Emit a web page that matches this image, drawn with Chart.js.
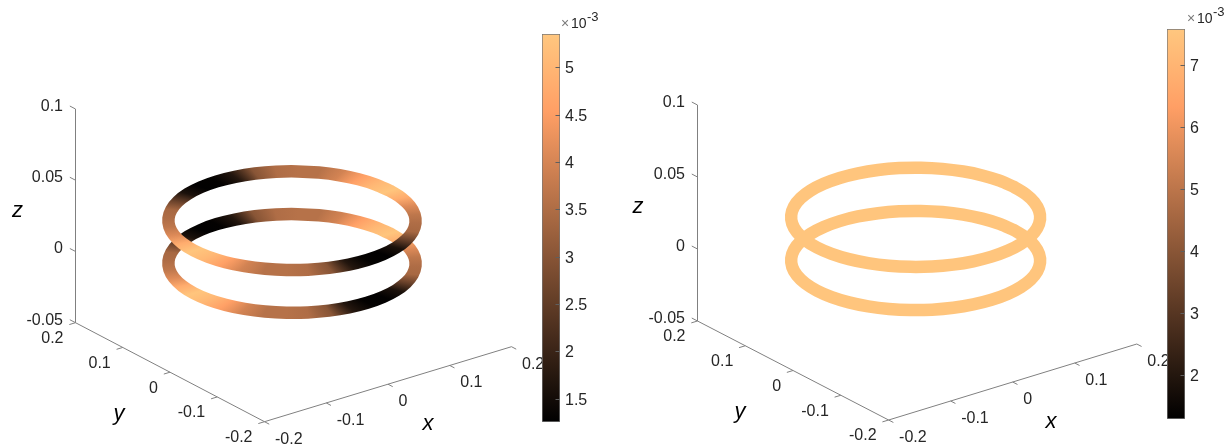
<!DOCTYPE html>
<html>
<head>
<meta charset="utf-8">
<title>Rings</title>
<script src="https://cdn.jsdelivr.net/npm/chart.js@4"></script>
<style>
  html, body { margin: 0; padding: 0; background: #fff; overflow: hidden; }
  #page { position: relative; width: 1227px; height: 444px; }
  canvas { position: absolute; }
</style>
</head>
<body>
<div id="page"></div>
<script>
// ==== DATA ====
const xTicks = [-0.2, -0.1, 0, 0.1, 0.2];
const yTicks = [-0.2, -0.1, 0, 0.1, 0.2];
const zTicks = [-0.05, 0, 0.05, 0.1];
const xTickLabels = ["-0.2", "-0.1", "0", "0.1", "0.2"];
const yTickLabels = ["-0.2", "-0.1", "0", "0.1", "0.2"];
const zTickLabels = ["-0.05", "0", "0.05", "0.1"];

// ring outline, every 10 degrees, closed
const ringX = [0.159, 0.15658, 0.14941, 0.1377, 0.1218, 0.1022, 0.0795, 0.05438, 0.02761, 0, -0.02761, -0.05438, -0.0795, -0.1022, -0.1218, -0.1377, -0.14941, -0.15658, -0.159, -0.15658, -0.14941, -0.1377, -0.1218, -0.1022, -0.0795, -0.05438, -0.02761, 0, 0.02761, 0.05438, 0.0795, 0.1022, 0.1218, 0.1377, 0.14941, 0.15658, 0.159];
const ringY = [0, 0.02761, 0.05438, 0.0795, 0.1022, 0.1218, 0.1377, 0.14941, 0.15658, 0.159, 0.15658, 0.14941, 0.1377, 0.1218, 0.1022, 0.0795, 0.05438, 0.02761, 0, -0.02761, -0.05438, -0.0795, -0.1022, -0.1218, -0.1377, -0.14941, -0.15658, -0.159, -0.15658, -0.14941, -0.1377, -0.1218, -0.1022, -0.0795, -0.05438, -0.02761, 0];
const ringHeights = [0, 0.03];
const ringCentre = [-0.0015, 0.0012];

// colour values along the rings (x 10^-3)
const leftValues = [5.3, 5.05, 4.55, 3.95, 3.6, 3.6, 3.5, 3.0, 1.7, 1.3, 1.28, 1.6, 2.6, 3.4, 3.5, 3.7, 4.1, 4.8, 5.3, 5.05, 4.55, 3.95, 3.6, 3.6, 3.5, 3.0, 1.7, 1.3, 1.28, 1.6, 2.6, 3.4, 3.5, 3.7, 4.1, 4.8, 5.3];
const rightValues = [7.5, 7.5, 7.5, 7.5, 7.5, 7.5, 7.5, 7.5, 7.5, 7.5, 7.5, 7.5, 7.5, 7.5, 7.5, 7.5, 7.5, 7.5, 7.5, 7.5, 7.5, 7.5, 7.5, 7.5, 7.5, 7.5, 7.5, 7.5, 7.5, 7.5, 7.5, 7.5, 7.5, 7.5, 7.5, 7.5, 7.5];

const leftBarTicks = [1.5, 2, 2.5, 3, 3.5, 4, 4.5, 5];
const rightBarTicks = [2, 3, 4, 5, 6, 7];
const leftBarRange = [1.254, 5.353];
const rightBarRange = [1.285, 7.575];

// ==== SETTINGS ====
const PAGE_W = 1227, PAGE_H = 444;
const FONT = '"Liberation Sans", Arial, sans-serif';
const TEXT_COLOR = "#262626";
const AXIS_COLOR = "#808080";

const page = document.getElementById("page");

function addCanvas(left, top, w, h) {
  const c = document.createElement("canvas");
  c.width = w;
  c.height = h;
  c.style.left = left + "px";
  c.style.top = top + "px";
  c.style.width = w + "px";
  c.style.height = h + "px";
  page.appendChild(c);
  return c;
}

// matlab copper
function copper(t) {
  t = Math.max(0, Math.min(1, t));
  const r = Math.min(1, 1.25 * t), g = 0.7812 * t, b = 0.4975 * t;
  return `rgb(${Math.round(r * 255)},${Math.round(g * 255)},${Math.round(b * 255)})`;
}

// 3D view of one panel -> page position
function makeProjection(p) {
  return (x, y, z) => ({
    x: p.origin[0] + (x + 0.2) * p.xVec[0] + (y + 0.2) * p.yVec[0],
    y: p.origin[1] + (x + 0.2) * p.xVec[1] + (y + 0.2) * p.yVec[1] + (z + 0.05) * p.zVec
  });
}

function ringPoint(project, i, z) {
  return project(ringX[i] + ringCentre[0], ringY[i] + ringCentre[1], z);
}

function ringGradient(chart, project, z, values, range) {
  if (!chart.chartArea) return "#000";
  const sx = chart.scales.x, sy = chart.scales.y;
  const c = project(ringCentre[0], ringCentre[1], z);
  const cx = sx.getPixelForValue(c.x), cy = sy.getPixelForValue(c.y);
  const angleAt = (i) => {
    const q = ringPoint(project, i, z);
    return Math.atan2(sy.getPixelForValue(q.y) - cy, sx.getPixelForValue(q.x) - cx);
  };
  const start = angleAt(0);
  const grad = chart.ctx.createConicGradient(start, cx, cy);
  const n = ringX.length - 1;
  for (let k = 0; k <= n; k++) {
    const i = n - k; // screen clockwise = falling angle on the ring
    let off = ((angleAt(i) - start) % (2 * Math.PI) + 2 * Math.PI) % (2 * Math.PI) / (2 * Math.PI);
    if (k === 0) off = 0;
    if (k === n) off = 1;
    grad.addColorStop(off, copper((values[i] - range[0]) / (range[1] - range[0])));
  }
  return grad;
}

function drawPanel(p) {
  const project = makeProjection(p);
  const line = (pts) => ({
    type: "line", data: pts, borderColor: AXIS_COLOR, borderWidth: 1, pointRadius: 0, tension: 0, order: 3
  });

  const datasets = [];
  // axes
  datasets.push(line([project(-0.2, -0.2, -0.05), project(0.2, -0.2, -0.05)]));
  datasets.push(line([project(-0.2, -0.2, -0.05), project(-0.2, 0.2, -0.05)]));
  datasets.push(line([project(-0.2, 0.2, -0.05), project(-0.2, 0.2, 0.1)]));
  // tick marks
  xTicks.forEach(v => datasets.push(line([project(v, -0.2, -0.05), project(v, -0.21, -0.05)])));
  yTicks.forEach(v => datasets.push(line([project(-0.2, v, -0.05), project(-0.21, v, -0.05)])));
  zTicks.forEach(v => datasets.push(line([project(-0.2, 0.2, v), project(-0.2, 0.212, v)])));

  // rings, the upper one on top
  ringHeights.forEach((z, n) => {
    datasets.push({
      type: "line",
      data: ringX.map((x, i) => ringPoint(project, i, z)),
      borderColor: (ctx) => ringGradient(ctx.chart, project, z, p.values, p.range),
      borderWidth: 12.5,
      borderCapStyle: "round",
      pointRadius: 0,
      tension: 0.33,
      order: 2 - n
    });
  });

  const axisText = {
    id: "axisText",
    afterDraw(chart) {
      const ctx = chart.ctx, sx = chart.scales.x, sy = chart.scales.y;
      const put = (text, q, dx, dy, align) => {
        ctx.textAlign = align;
        ctx.fillText(text, sx.getPixelForValue(q.x) + dx, sy.getPixelForValue(q.y) + dy);
      };
      ctx.save();
      ctx.fillStyle = TEXT_COLOR;
      ctx.textBaseline = "middle";
      ctx.font = "16px " + FONT;
      xTicks.forEach((v, i) => put(xTickLabels[i], project(v, -0.2, -0.05), 10.5, 17.5, "left"));
      yTicks.forEach((v, i) => put(yTickLabels[i], project(-0.2, v, -0.05), -12, 16, "right"));
      zTicks.forEach((v, i) => put(zTickLabels[i], project(-0.2, 0.2, v), -12.5, -2.5, "right"));

      ctx.fillStyle = "#000";
      ctx.textAlign = "center";
      ctx.font = "italic 22px " + FONT;
      p.axisLabels.forEach(a => ctx.fillText(a.text, a.x, a.y));

      // colorbar exponent
      ctx.textAlign = "left";
      ctx.textBaseline = "alphabetic";
      ctx.fillStyle = "#7a7a7a";
      ctx.font = "14px " + FONT;
      ctx.fillText("\u00d7", p.expX, p.expY);
      ctx.fillStyle = TEXT_COLOR;
      ctx.fillText("10", p.expX + 10, p.expY);
      ctx.font = "13px " + FONT;
      ctx.fillText("-3", p.expX + 26, p.expY - 7);
      ctx.restore();
    }
  };

  new Chart(addCanvas(0, 0, PAGE_W, PAGE_H), {
    type: "line",
    data: { datasets },
    options: {
      responsive: false,
      animation: false,
      events: [],
      layout: { padding: 0 },
      plugins: { legend: { display: false }, tooltip: { enabled: false } },
      scales: {
        x: { type: "linear", display: false, min: 0, max: PAGE_W },
        y: { type: "linear", display: false, min: 0, max: PAGE_H, reverse: true }
      }
    },
    plugins: [axisText]
  });
}

function drawColorbar(b) {
  const PAD = 12, W = 72;
  const innerTicks = {
    id: "innerTicks",
    afterDatasetsDraw(chart) {
      const ctx = chart.ctx, a = chart.chartArea, sy = chart.scales.y;
      ctx.save();
      ctx.strokeStyle = "#5f5f5f";
      ctx.lineWidth = 1;
      b.ticks.forEach(v => {
        const py = Math.round(sy.getPixelForValue(v)) + 0.5;
        ctx.beginPath();
        ctx.moveTo(a.right - 4.5, py);
        ctx.lineTo(a.right, py);
        ctx.stroke();
      });
      ctx.restore();
    }
  };
  new Chart(addCanvas(b.left, b.top - PAD, W, b.height + 2 * PAD), {
    type: "bar",
    data: {
      labels: ["c"],
      datasets: [{
        data: [b.range],
        backgroundColor(ctx) {
          const chart = ctx.chart;
          if (!chart.chartArea) return "#000";
          const a = chart.chartArea;
          const g = chart.ctx.createLinearGradient(0, a.bottom, 0, a.top);
          g.addColorStop(0, copper(0));
          g.addColorStop(0.8, copper(0.8)); // copper red channel saturates here
          g.addColorStop(1, copper(1));
          return g;
        },
        borderColor: "#777777",
        borderWidth: 1,
        borderSkipped: false,
        barPercentage: 1,
        categoryPercentage: 1
      }]
    },
    options: {
      responsive: false,
      animation: false,
      events: [],
      layout: { padding: { top: PAD, bottom: PAD } },
      plugins: { legend: { display: false }, tooltip: { enabled: false } },
      scales: {
        x: { display: false },
        y: {
          position: "right",
          min: b.range[0],
          max: b.range[1],
          border: { display: false },
          grid: { display: false, drawTicks: false },
          afterBuildTicks(s) { s.ticks = b.ticks.map(v => ({ value: v })); },
          afterFit(s) { s.width = W - 18; s.paddingTop = 0; s.paddingBottom = 0; },
          ticks: {
            color: TEXT_COLOR,
            padding: 5,
            autoSkip: false,
            labelOffset: 1.5,
            font: { family: FONT, size: 16 },
            callback: (v) => String(v)
          }
        }
      }
    },
    plugins: [innerTicks]
  });
}

// ==== PANELS ====
drawPanel({
  origin: [264.5, 421.7],
  xVec: [617.5, -187.5],
  yVec: [-472.5, -247.5],
  zVec: -1424.7,
  values: leftValues,
  range: leftBarRange,
  axisLabels: [
    { text: "x", x: 428, y: 424 },
    { text: "y", x: 119, y: 414 },
    { text: "z", x: 17.5, y: 211 }
  ],
  expX: 561,
  expY: 28
});
drawPanel({
  origin: [888.6, 420],
  xVec: [620.5, -190],
  yVec: [-477.75, -247.5],
  zVec: -1440,
  values: rightValues,
  range: rightBarRange,
  axisLabels: [
    { text: "x", x: 1051, y: 422 },
    { text: "y", x: 740, y: 412 },
    { text: "z", x: 638, y: 207 }
  ],
  expX: 1187,
  expY: 23
});

drawColorbar({ left: 542, top: 34, height: 388, range: leftBarRange, ticks: leftBarTicks });
drawColorbar({ left: 1167, top: 29, height: 390, range: rightBarRange, ticks: rightBarTicks });
</script>
</body>
</html>
